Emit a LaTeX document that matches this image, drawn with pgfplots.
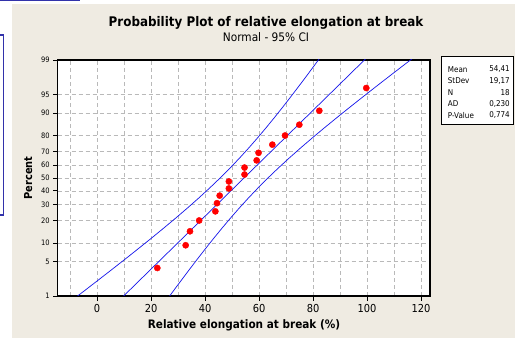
\documentclass[border=0pt]{standalone}
\usepackage{pgfplots}
\pgfplotsset{compat=1.18}
\usepackage{fontspec}
\setmainfont{DejaVu Sans}[FakeStretch=0.9]
\definecolor{bgc}{RGB}{239,235,226}
\definecolor{ciblue}{RGB}{20,20,235}
\definecolor{frameblue}{RGB}{50,50,170}
\begin{document}
\begin{tikzpicture}
\useasboundingbox (0,0) rectangle (515bp,340bp);
\fill[white] (0,0) rectangle (515bp,340bp);
\fill[bgc] (12bp,2bp) rectangle (515bp,336bp);
\draw[frameblue, line width=1.3bp] (0,339.4bp) -- (80bp,339.4bp);
\draw[frameblue, line width=1.1bp] (0,305bp) -- (3.3bp,305bp) -- (3.3bp,125bp) -- (0,125bp);
\begin{axis}[
  at={(57.7bp,44bp)}, anchor=south west,
  scale only axis, width=372.3bp, height=236bp,
  xmin=-14.6, xmax=123.3, ymin=-2.3263, ymax=2.3263,
  xtick={0,20,...,120}, minor xtick={-10,10,...,110},
  ytick={-2.3263,-1.6449,-1.2816,-0.8416,-0.5244,-0.2533,0,0.2533,0.5244,0.8416,1.2816,1.6449,2.3263},
  yticklabels={1,5,10,20,30,40,50,60,70,80,90,95,99},
  grid=both,
  major grid style={gray!55, dash pattern=on 4bp off 3bp, line width=0.6bp},
  minor grid style={gray!55, dash pattern=on 4bp off 3bp, line width=0.6bp},
  tick align=outside, tick pos=left,
  major tick length=4.5bp, minor tick length=0pt,
  tick style={black, line width=0.8bp},
  axis line style={black, line width=1.2bp},
  axis background/.style={fill=white},
  xticklabel style={font=\fontsize{11}{13}\selectfont},
  yticklabel style={font=\fontsize{7.5}{9}\selectfont},
  /pgf/number format/assume math mode=true,
]
\addplot[ciblue, line width=0.7bp] coordinates {(4.568,-2.6) (104.252,2.6)};
\addplot[ciblue, line width=0.7bp] coordinates {
(-13.966,-2.6) (-9.042,-2.4) (-4.142,-2.2) (0.731,-2.0) (5.569,-1.8) (10.366,-1.6) (15.111,-1.4) (19.791,-1.2) (24.394,-1.0) (28.899,-0.8) (33.288,-0.6) (37.539,-0.4) (41.632,-0.2) (45.554,0) (49.300,0.2) (52.875,0.4) (56.292,0.6) (59.571,0.8) (62.734,1.0) (65.799,1.2) (68.787,1.4) (71.710,1.6) (74.581,1.8) (77.411,2.0) (80.206,2.2) (82.974,2.4) (85.718,2.6)};
\addplot[ciblue, line width=0.7bp] coordinates {
(23.102,-2.6) (25.846,-2.4) (28.614,-2.2) (31.409,-2.0) (34.239,-1.8) (37.110,-1.6) (40.033,-1.4) (43.021,-1.2) (46.086,-1.0) (49.249,-0.8) (52.528,-0.6) (55.945,-0.4) (59.520,-0.2) (63.266,0) (67.188,0.2) (71.281,0.4) (75.532,0.6) (79.921,0.8) (84.426,1.0) (89.029,1.2) (93.709,1.4) (98.454,1.6) (103.251,1.8) (108.089,2.0) (112.962,2.2) (117.862,2.4) (122.786,2.6)};
\addplot[only marks, mark=*, mark size=3.1bp, red, mark options={draw=red, fill=red}] coordinates {
(22.3,-1.774) (32.8,-1.326) (34.4,-1.0505) (37.8,-0.8377) (43.8,-0.6575) (44.4,-0.4965) (45.4,-0.3474) (48.8,-0.2058) (48.8,-0.0682)
(54.6,0.0682) (54.6,0.2058) (59.1,0.3474) (59.8,0.4965) (64.9,0.6575) (69.6,0.8377) (74.9,1.0505) (82.3,1.326) (99.7,1.774)};
\end{axis}
\node[anchor=base, font=\bfseries\fontsize{13.3}{15}\selectfont, inner sep=0] at (266bp,313bp) {Probability Plot of relative elongation at break};
\node[anchor=base, font=\fontsize{11.8}{14}\selectfont, inner sep=0] at (266bp,298bp) {Normal - 95\% CI};
\node[anchor=base, font=\bfseries\fontsize{11.7}{14}\selectfont, inner sep=0] at (244bp,12bp) {Relative elongation at break (\%)};
\node[rotate=90, anchor=center, font=\bfseries\fontsize{11}{13}\selectfont, inner sep=0] at (28.3bp,162bp) {Percent};
\filldraw[fill=white, draw=black, line width=0.8bp] (441bp,215.3bp) rectangle (513.3bp,283.3bp);
\foreach \lab/\val/\yy in {Mean/{54,41}/270.7, StDev/{19,17}/259.2, N/18/247.7, AD/{0,230}/236.2, P-Value/{0,774}/224.7} {
  \node[anchor=west, font=\fontsize{8}{9}\selectfont, inner sep=0] at (447.7bp,\yy bp) {\lab};
  \node[anchor=east, font=\fontsize{8}{9}\selectfont, inner sep=0] at (510bp,\yy bp) {\val};
}
\end{tikzpicture}
\end{document}
